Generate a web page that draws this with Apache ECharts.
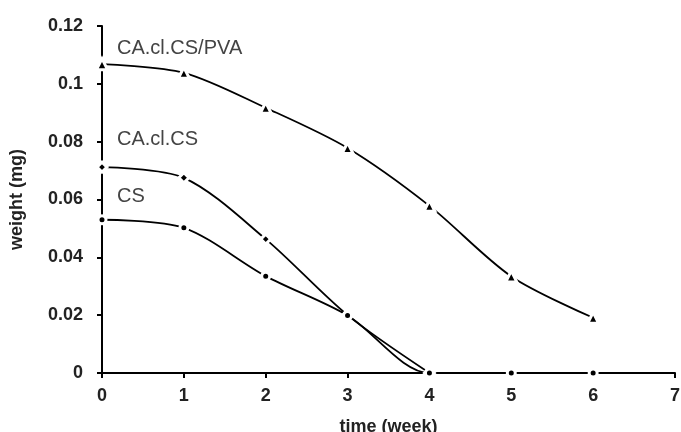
<!DOCTYPE html>
<html><head><meta charset="utf-8">
<script src="https://cdn.jsdelivr.net/npm/echarts@6/dist/echarts.min.js"></script>
<style>html,body{margin:0;padding:0;background:#fff}#c{width:681px;height:432px}</style>
</head><body><div id="c"></div>
<script>
const weeks = [0, 1, 2, 3, 4, 5, 6];
const pva = [0.1068, 0.1038, 0.0917, 0.0778, 0.0578, 0.0334, 0.0191];
const clcs = [0.0712, 0.0675, 0.0463, 0.0200, 0.0];
const cs = [0.0530, 0.0502, 0.0335, 0.0199, 0.0, 0.0, 0.0];
const yTicks = [0, 0.02, 0.04, 0.06, 0.08, 0.1, 0.12];
const seriesLabels = ['CA.cl.CS/PVA', 'CA.cl.CS', 'CS'];

const chart = echarts.init(document.getElementById('c'));
const pairs = a => a.map((v, i) => [weeks[i], v]);
const base = {
  type: 'line', smooth: 0.3, color: '#000',
  lineStyle: {color: '#000', width: 1.8},
  itemStyle: {color: '#000', borderColor: '#fff', borderWidth: 3},
  z: 3
};
const bold = {fontFamily: 'Liberation Sans', fontWeight: 'bold', fontSize: 18, color: '#222'};
chart.setOption({
  animation: false,
  grid: {left: 102, right: 6, top: 26, bottom: 59, containLabel: false, outerBoundsMode: 'none'},
  xAxis: {
    type: 'value', min: 0, max: 7, interval: 1,
    name: 'time (week)', nameLocation: 'middle', nameGap: 45,
    nameTextStyle: bold,
    axisLine: {lineStyle: {color: '#000', width: 2}},
    axisTick: {show: true, length: 5, lineStyle: {color: '#000', width: 2}},
    axisLabel: Object.assign({margin: 14}, bold),
    splitLine: {show: false}
  },
  yAxis: {
    type: 'value', min: 0, max: 0.12, interval: 0.02,
    name: 'weight (mg)', nameLocation: 'middle', nameGap: 76,
    nameTextStyle: bold,
    axisLine: {show: true, lineStyle: {color: '#000', width: 2}},
    axisTick: {show: true, length: 5, lineStyle: {color: '#000', width: 2}},
    axisLabel: Object.assign({margin: 19,
      formatter: v => { const t = yTicks.find(x => Math.abs(x - v) < 1e-9); return t === undefined ? '' : String(+t.toFixed(2)); }}, bold),
    splitLine: {show: false}
  },
  series: [
    Object.assign({}, base, {name: seriesLabels[0], data: pairs(pva), symbol: 'triangle', symbolSize: 11}),
    Object.assign({}, base, {name: seriesLabels[1], data: pairs(clcs), symbol: 'diamond', symbolSize: 10}),
    Object.assign({}, base, {name: seriesLabels[2], data: pairs(cs), symbol: 'circle', symbolSize: 8})
  ],
  graphic: [
    {type: 'text', left: 117, top: 38, style: {text: seriesLabels[0], font: '20px "Liberation Sans"', fill: '#444'}},
    {type: 'text', left: 117, top: 129, style: {text: seriesLabels[1], font: '20px "Liberation Sans"', fill: '#444'}},
    {type: 'text', left: 117, top: 186, style: {text: seriesLabels[2], font: '20px "Liberation Sans"', fill: '#444'}}
  ]
});
</script></body></html>
